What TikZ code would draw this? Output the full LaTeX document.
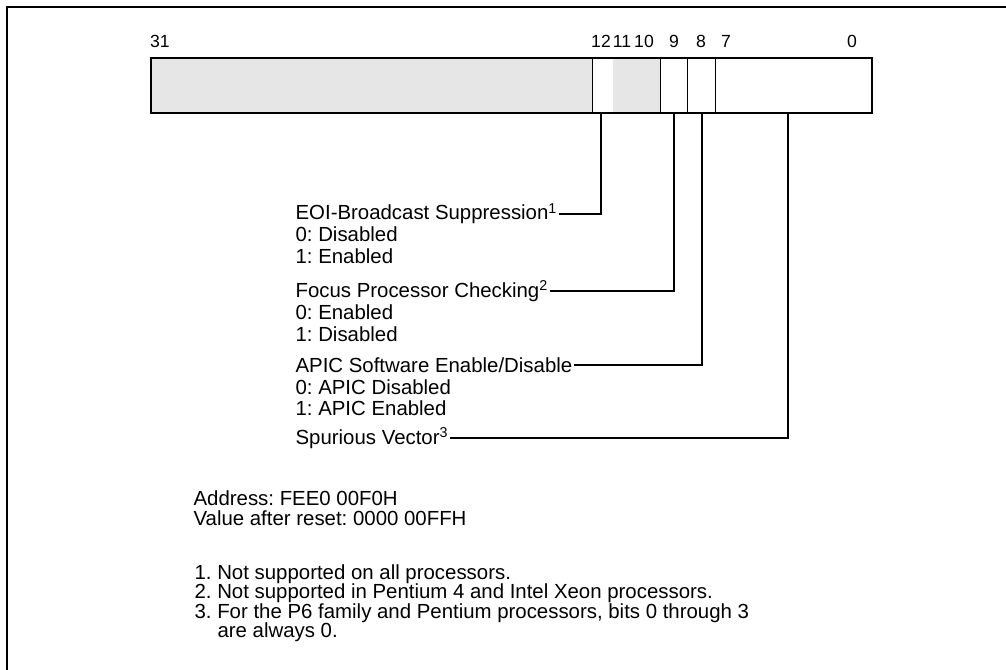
\documentclass[tikz,border=0pt]{standalone}
\usepackage{fontspec}
\setmainfont{Liberation Sans}
\frenchspacing
\usetikzlibrary{calc}
\definecolor{regGray}{HTML}{E6E6E6}
\tikzset{
  frameline/.style={line width=1.5pt},
  regline/.style={line width=1.5pt},
  divline/.style={line width=0.75pt},
  leader/.style={line width=1.4pt},
  bitnum/.style={anchor=base, inner sep=0pt, font=\fontsize{13.2}{15}\selectfont},
  desc/.style={anchor=base west, inner sep=1pt, font=\fontsize{15.3}{18}\selectfont},
}

\begin{document}
\begin{tikzpicture}[x=0.75pt, y=-0.75pt]
  \useasboundingbox (0,0) rectangle (1006,670);
  \clip (0,0) rectangle (1006,670);

  % frame, cut by the page on the right and at the bottom
  \draw[frameline] (7,680) -- (7,7) -- (1016,7);

  % the register, fields from bit 31 down to bit 0
  \foreach \l/\r/\c in {151/592/regGray, 592/613/white, 613/660/regGray,
                        660/687/white, 687/715/white, 715/872/white} {
    \fill[\c] (\l,58) rectangle (\r,113);
  }
  \foreach \x in {592, 660, 687, 715} {
    \draw[divline] (\x,58) -- (\x,113);
  }
  \draw[regline] (151,58) rectangle (872,113);

  % bit numbers
  \foreach \x/\n in {160/31, 601/12, 622/11, 644/10, 674/9, 701/8, 726/7, 852/0} {
    \node[bitnum] (n\n) at (\x,48) {\n};
  }

  % leader feet on the register
  \coordinate (b12) at (601,113);
  \coordinate (b9) at (674,113);
  \coordinate (b8) at (702,113);
  \coordinate (b0) at (788,113);

  % field descriptions
  \node[desc] (eoi) at (294,220) {EOI-Broadcast Suppression\textsuperscript{1}};
  \node[desc] (eoiA) at (294,242) {0: Disabled};
  \node[desc] (eoiB) at (294,263) {1: Enabled};

  \node[desc] (focus) at (294,297) {Focus Processor Checking\textsuperscript{2}};
  \node[desc] (focusA) at (294,319) {0: Enabled};
  \node[desc] (focusB) at (294,341) {1: Disabled};

  \node[desc] (apic) at (294,372) {APIC Software Enable/Disable};
  \node[desc] (apicA) at (294,394) {0: APIC Disabled};
  \node[desc] (apicB) at (294,415) {1: APIC Enabled};

  \node[desc] (spur) at (294,444) {Spurious Vector\textsuperscript{3}};

  % leaders from the descriptions up to their bits
  \draw[leader] (eoi.east) -| (b12);
  \draw[leader] (focus.east) -| (b9);
  \draw[leader] (apic.east) -| (b8);
  \draw[leader] (spur.east) -| (b0);

  % address and footnotes
  \node[desc] (addr) at (192,505) {Address: FEE0 00F0H};
  \node[desc] (reset) at (192,525) {Value after reset: 0000 00FFH};

  \node[desc] (fnA) at (193,579) {1. Not supported on all processors.};
  \node[desc] (fnB) at (193,598) {2. Not supported in Pentium 4 and Intel Xeon processors.};
  \node[desc] (fnC) at (193,618) {3. For the P6 family and Pentium processors, bits 0 through 3};
  \node[desc] (fnD) at (216,637) {are always 0.};
\end{tikzpicture}
\end{document}
